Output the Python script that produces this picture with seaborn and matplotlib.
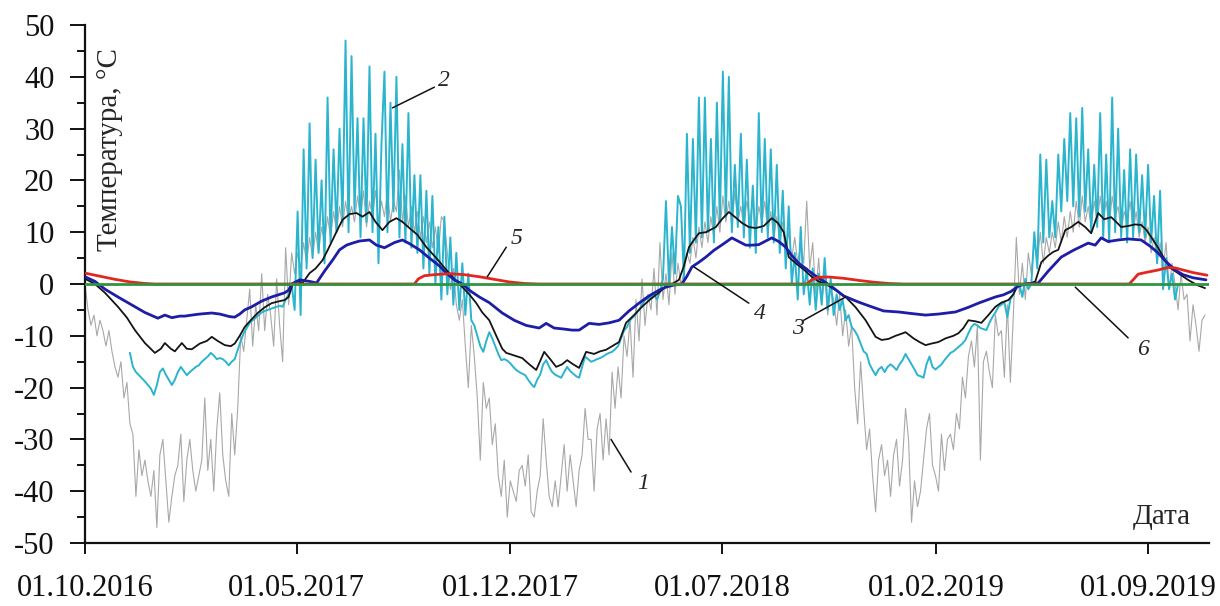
import numpy as np
import pandas as pd
import matplotlib
matplotlib.use("Agg")
import matplotlib.pyplot as plt
from matplotlib.ticker import MultipleLocator, NullLocator
import seaborn as sns

# ---------------- data ----------------
START = "2016-10-01"
END = "2019-11-01"
STEP = 3  # days between samples of curves 1 and 2

tick_dates = ["2016-10-01", "2017-05-01", "2017-12-01", "2018-07-01", "2019-02-01", "2019-09-01"]
tick_labels = ["01.10.2016", "01.05.2017", "01.12.2017", "01.07.2018", "01.02.2019", "01.09.2019"]
y_ticks = [-50, -40, -30, -20, -10, 0, 10, 20, 30, 40, 50]

# 1 - air temperature, every 3 days from 01.10.2016
air_temp = [
    0, -5, -8, -6, -10, -7, -9, -12, -9, -13,
    -16, -18, -15, -22, -19, -27, -29, -41, -32, -37,
    -34, -38, -41, -36, -47, -33, -30, -38, -46, -41,
    -37, -35, -29, -42, -34, -30, -36, -40, -37, -34,
    -22, -36, -30, -40, -28, -21, -33, -38, -41, -25,
    -33, -24, -10, -13, -7, -1, -12, -4, -9, 2,
    -9, -2, -6, -12, 1, -8, -15, 7, -4, 6,
    2, 6, 3, 8, 4, 9, 5, 10, 6, 11,
    8, 13, 9, 14, 10, 15, 11, 16, 12, 15,
    12, 17, 13, 18, 11, 16, 13, 18, 12, 16,
    13, 18, 12, 16, 14, 22, 12, 17, 11, 15,
    10, 14, 9, 13, 8, 12, 7, 11, 6, 13,
    12, 6, -1, 3, -4, -7, -3, -12, -20, -8,
    -14, -22, -34, -19, -24, -22, -31, -27, -37, -41,
    -34, -45, -38, -40, -42, -36, -35, -39, -33, -44,
    -45, -40, -37, -26, -34, -41, -43, -38, -43, -37,
    -31, -40, -33, -38, -43, -36, -33, -24, -30, -30,
    -40, -28, -25, -34, -26, -33, -17, -24, -16, -22,
    -10, -14, -7, -18, -3, -11, 1, -8, -2, -5,
    3, -6, 8, -3, 2, -4, 6, -2, 4, 0,
    2, 6, 4, 9, 5, 11, 7, 12, 8, 13,
    9, 15, 10, 17, 12, 16, 11, 18, 12, 15,
    11, 16, 12, 17, 10, 15, 12, 16, 10, 14,
    9, 13, 8, 12, 6, 10, 5, 9, 4, 8,
    4, 16, 3, 8, -2, 5, -4, 2, -6, -1,
    -3, -8, -2, -10, -5, -12, -8, -20, -27, -15,
    -24, -32, -28, -37, -44, -34, -31, -37, -34, -41,
    -33, -30, -39, -34, -24, -30, -46, -38, -43, -40,
    -34, -28, -25, -35, -37, -40, -29, -36, -30, -29,
    -32, -25, -28, -18, -22, -14, -11, -16, -8, -34,
    -15, -13, -17, -20, -6, -10, -9, -18, -4, -19,
    -6, 9, -2, 4, -3, 6, 2, 8, 4, 10,
    4, 9, 6, 10, 7, 12, 8, 13, 9, 14,
    10, 16, 11, 17, 12, 15, 11, 16, 12, 17,
    12, 16, 11, 17, 13, 15, 10, 14, 12, 16,
    10, 14, 9, 12, 8, 11, 6, 9, 4, 8,
    3, 8, -1, 4, 0, -5, 2, -3, -2, -11,
    -4, -8, -13, -7, -6,
]

# 2 - ground surface temperature, every 3 days; (first day offset, values)
surf_winter1 = (45, [
    -13.3, -16, -17, -17.6, -18.2, -18.8, -19.5, -20.2, -21.4, -19.5,
    -17, -16.3, -17.5, -18.5, -19.5, -18.5, -17, -16, -16.8, -17.6,
    -17, -16.5, -16, -15.7, -15, -14.5, -14, -13.3, -13.8, -14.5,
    -14.3, -14.5, -15, -15.7, -15, -14.5, -12.7, -11, -9.5, -8.5,
    -7.5, -7, -6.5, -6, -5.5, -5.2, -5, -4.8, -4.6, -4.4,
    -4.2, -4.4, -3, -2])
surf_summer1 = (207, [
    0, -5, 14, -6, 26, 3, 31, 5, 24, 6,
    20, 4, 36, 8, 26, 10, 30, 12, 47, 10,
    44, 14, 32, 9, 32, 12, 42, 10, 29, 4,
    27, 41, 10, 35, 14, 40, 9, 27, 8, 33,
    7, 21, 6, 21, 3, 18, 2, 17, 0, 11,
    -3, 13, -2, 9, -4, 6, -5, 4, -6, 2,
    -7])
surf_winter2 = (390, [
    -8, -10, -12, -13.1, -11, -9.3, -10.5, -12, -13.5, -14.7,
    -14.5, -14.8, -15.3, -16, -16.6, -17, -17.3, -17.6, -18.5, -19.3,
    -19.9, -18.5, -17.5, -15.5, -14.7, -16, -17, -17.5, -17.8, -18.1,
    -17, -16, -16.8, -17.3, -17.8, -18.1, -16, -14, -14.5, -15,
    -14.8, -14.5, -14.3, -14, -13.6, -13.3, -13.1, -12.6, -12, -10.5,
    -9, -8.3, -7, -6.4, -5.8, -5, -4, -3.1, -2.8, -2.5,
    -2, -3, -1.5, 1, 16, 0, 11, 2, 17])
surf_summer2 = (597, [
    15, 1, 29, 6, 28, 8, 36, 9, 36, 10,
    28, 8, 35, 12, 41, 13, 40, 10, 23, 11,
    29, 9, 24, 7, 19, 6, 33, 10, 28, 9,
    26, 8, 23, 6, 18, 3, 15, 0, 6, -3,
    11, -2, 3, -4, 3, -5])
surf_winter3 = (735, [
    2, -4, 5, -5, 1, -6, -2, -5, -3, -7,
    -6, -8.3, -9, -10, -11.5, -13, -13.5, -15.5, -16.6, -17.6,
    -16.5, -16, -17, -16, -15.5, -16, -16.6, -15.5, -14.7, -13.5,
    -14.5, -15.5, -16.5, -17.6, -17.8, -18.1, -15.5, -14, -16, -16.5,
    -16, -15.5, -14.7, -14, -13.3, -13, -12.5, -12, -11.5, -10.8,
    -9.5, -8.3, -7.7, -8, -8.5, -8.7, -8.9, -7.5, -6.4, -5.5,
    -4.4, -4, -3.5, -6.4, -3, -2, -0.5])
surf_summer3 = (936, [
    0, -2.5, 1, -1, 0, 10, 3, 25, 8, 24,
    9, 16, 9, 25, 14, 28, 16, 33, 15, 32,
    13, 34, 14, 26, 10, 23, 11, 33, 9, 25,
    8, 36, 10, 30, 9, 22, 8, 26, 9, 25,
    10, 21, 9, 23, 8, 17, 4, 18, -1, 5,
    -1, 2, -3, 0])

# 3 - mean of surface temperature (day offset, value)
smooth_surf = [
    (0, 1), (10, 0), (20, -1.7), (33, -4.4), (42, -6.5), (50, -8.9), (60, -11.4), (70, -13.3),
    (76, -12.5), (80, -11.4), (86, -12.5), (90, -13), (97, -11.4), (102, -12.5), (107, -12.6),
    (115, -11.5), (122, -11), (127, -10.2), (133, -11), (140, -11.8), (146, -12), (150, -11.5),
    (155, -10), (160, -8.3), (166, -7), (173, -5.6), (180, -4.5), (187, -3.7), (193, -3.4),
    (200, -3.1), (204, -2.5), (208, 0), (213, 0.5), (218, 0.2), (225, 2.1), (231, 3), (238, 4.6),
    (243, 6.5), (248, 8.5), (253, 10.5), (258, 12.4), (265, 13.5), (272, 13.7), (278, 13),
    (285, 13.9), (291, 12), (298, 10.4), (305, 12), (312, 12.7), (318, 12), (325, 10.8),
    (333, 9.5), (342, 7.1), (352, 5), (362, 2.7), (370, 1), (378, -0.6), (385, -2), (392, -3.7),
    (398, -5.5), (405, -7), (412, -10), (418, -12.5), (422, -13.3), (430, -13.8), (438, -14.3),
    (445, -15.5), (452, -16.6), (460, -13.1), (466, -14.5), (472, -16), (478, -15.5),
    (483, -14.7), (489, -15.5), (495, -16.2), (502, -13.1), (510, -13.5), (516, -13),
    (522, -12.7), (528, -12), (535, -11.2), (542, -7.5), (550, -6), (558, -4.4), (566, -3),
    (574, -1.8), (582, -0.5), (588, 0), (595, 0.8), (600, 3.5), (605, 7.1), (610, 8.5),
    (615, 9.8), (622, 10), (632, 11), (638, 12.5), (645, 13.9), (652, 12.8), (658, 11.8),
    (665, 11), (672, 10.8), (680, 11.2), (688, 12.7), (694, 11.8), (700, 10), (705, 5.2),
    (712, 4), (720, 2.8), (728, 1.4), (735, 0.5), (742, 0), (752, -1.2), (762, -2.5),
    (772, -4.5), (782, -7), (792, -10.2), (798, -10.8), (805, -10.6), (812, -10), (818, -9.6),
    (822, -9.3), (830, -10.5), (836, -11.2), (842, -11.8), (848, -11.5), (855, -11.2),
    (862, -10.5), (870, -10), (875, -9.5), (880, -8.5), (885, -7), (892, -7.2), (898, -7.5),
    (905, -6), (912, -4.4), (918, -3.6), (925, -3.1), (930, -2), (935, 0), (942, 0), (948, 0.2),
    (952, 0.5), (958, 4.2), (965, 5.5), (970, 6.2), (975, 6.6), (982, 10.4), (988, 11),
    (995, 12), (1002, 11), (1008, 9.8), (1015, 13.7), (1021, 12.5), (1028, 12.9), (1033, 12),
    (1038, 11), (1045, 11.2), (1052, 11.5), (1058, 11.4), (1063, 10.5), (1068, 9.1), (1075, 7),
    (1082, 4.6), (1088, 3), (1095, 2.1), (1105, 0.8), (1114, -0.2), (1122, -0.8),
]

# 4 - temperature at depth (day offset, value)
depth_temp = [
    (0, 1.4), (10, 0.5), (20, -1), (33, -2.5), (42, -3.5), (50, -4.4), (60, -5.5), (73, -6.6),
    (80, -6), (87, -6.5), (95, -6.2), (100, -6.2), (107, -6), (115, -5.8), (127, -5.6),
    (135, -5.8), (145, -6.3), (150, -6.4), (155, -5.8), (160, -5), (167, -4.4), (177, -3.3),
    (187, -2.5), (195, -2), (200, -1.7), (204, -1.2), (207, 0), (215, 0.8), (225, 0.5),
    (232, 0.2), (240, 2.5), (248, 4.6), (255, 6.6), (262, 7.5), (268, 7.9), (275, 8.3),
    (285, 8.5), (292, 7.5), (300, 7), (310, 8), (318, 8.5), (325, 7.8), (335, 6.6), (345, 5),
    (355, 3.5), (362, 2.1), (370, 0.8), (378, 0), (385, -1.2), (395, -2.5), (405, -3.6),
    (418, -5.6), (430, -7), (442, -8), (455, -8.5), (462, -7.6), (470, -8.5), (480, -8.7),
    (488, -8.9), (495, -8.9), (505, -7.6), (515, -7.8), (525, -7.5), (535, -7), (545, -5.2),
    (555, -3.7), (565, -2.3), (575, -1.2), (582, -0.6), (590, -0.2), (598, 0), (603, 1.5),
    (608, 3.3), (615, 4.2), (622, 5.2), (630, 6.5), (640, 7.8), (648, 8.9), (655, 8.2),
    (662, 7.5), (668, 7.5), (675, 7.6), (682, 8.3), (688, 8.9), (695, 8.2), (702, 7.1),
    (708, 5.5), (715, 4), (722, 3), (730, 1.8), (738, 0.8), (748, -0.5), (760, -2.3),
    (775, -3.5), (788, -4.4), (800, -5.2), (815, -5.4), (828, -5.7), (842, -6), (855, -5.8),
    (872, -5.4), (885, -4.5), (895, -3.7), (905, -3), (912, -2.5), (920, -2.1), (928, -1.4),
    (935, -0.4), (942, 0), (950, 0.1), (955, 0.2), (965, 2.5), (978, 5.2), (990, 6.5),
    (1005, 7.9), (1012, 7.5), (1018, 8.9), (1025, 8.2), (1035, 8.5), (1045, 8.7), (1058, 8.5),
    (1067, 7.3), (1075, 6), (1082, 4.5), (1092, 2.7), (1100, 1.8), (1110, 1.2), (1123, 0.8),
]

# 5 - temperature of the deeper layer (day offset, value)
deep_temp = [
    (0, 2.1), (15, 1.5), (30, 0.9), (45, 0.4), (60, 0.1), (70, 0),
    (330, 0), (334, 1.0), (340, 1.6), (350, 1.8), (365, 2.0), (380, 1.8), (395, 1.4),
    (410, 0.9), (425, 0.4), (440, 0.1), (455, 0),
    (723, 0), (728, 0.8), (735, 1.3), (745, 1.35), (760, 1.1), (775, 0.7), (790, 0.35),
    (805, 0.1), (820, 0),
    (1046, 0), (1050, 0.8), (1055, 1.9), (1062, 2.2), (1075, 2.7), (1085, 3.2), (1092, 3.1),
    (1100, 2.7), (1110, 2.2), (1124, 1.7),
]

# 6 - zero line
zero_line = [(0, 0), (1126, 0)]

# curve numbers: (label, line start (day, value), line end (day, value), text (day, value))
callouts = [
    ("1", (527, -30), (547, -36.3), (553, -38.6)),
    ("2", (308, 34), (350, 38), (354, 39.2)),
    ("3", (762, -2.5), (720, -7), (708, -8.6)),
    ("4", (610, 3.3), (665, -3.7), (670, -5.6)),
    ("5", (403, 1.4), (422, 7.1), (426, 8.8)),
    ("6", (992, -0.6), (1045, -10.4), (1054, -12.6)),
]

# ---------------- helpers ----------------
t0 = pd.Timestamp(START)


def regular_frame(offset, values):
    days = offset + STEP * np.arange(len(values))
    return pd.DataFrame({"date": t0 + pd.to_timedelta(days, unit="D"), "temp": values})


def pair_frame(pairs):
    days = [p[0] for p in pairs]
    vals = [p[1] for p in pairs]
    return pd.DataFrame({"date": t0 + pd.to_timedelta(days, unit="D"), "temp": vals})


df_air = regular_frame(0, air_temp)
df_surf = pd.concat([regular_frame(o, v) for o, v in
                     (surf_winter1, surf_summer1, surf_winter2, surf_summer2, surf_winter3, surf_summer3)],
                    ignore_index=True)
df_smooth = pair_frame(smooth_surf)
df_depth = pair_frame(depth_temp)
df_deep = pair_frame(deep_temp)
df_zero = pair_frame(zero_line)

# ---------------- plot ----------------
sns.set_style("ticks")
plt.rcParams["font.family"] = ["Liberation Serif", "DejaVu Serif"]
plt.rcParams["axes.unicode_minus"] = False

fig = plt.figure(figsize=(12.2, 6.06), dpi=100)
ax = fig.add_axes([85 / 1220, 63 / 606, 1124 / 1220, 518 / 606])

common = dict(x="date", y="temp", ax=ax, estimator=None, sort=False, legend=False)
sns.lineplot(data=df_air, color="#a8a8a8", linewidth=0.8, zorder=1, **common)
sns.lineplot(data=df_surf, color="#2ab4ce", linewidth=1.4, zorder=2, **common)
sns.lineplot(data=df_smooth, color="#141414", linewidth=1.3, zorder=3, **common)
sns.lineplot(data=df_depth, color="#1d1da6", linewidth=2.0, zorder=4, **common)
sns.lineplot(data=df_deep, color="#e1271f", linewidth=2.0, zorder=5, **common)
sns.lineplot(data=df_zero, color="#2f9440", linewidth=2.0, zorder=6, **common)

for label, p0, p1, pt in callouts:
    d0 = t0 + pd.Timedelta(days=p0[0])
    d1 = t0 + pd.Timedelta(days=p1[0])
    ax.plot([d0, d1], [p0[1], p1[1]], color="#111111", linewidth=1.1, zorder=7)
    ax.text(t0 + pd.Timedelta(days=pt[0]), pt[1], label, fontsize=17, style="italic",
            ha="left", va="center", zorder=8)

ax.set_xlim(t0, pd.Timestamp(END))
ax.set_ylim(-50, 50)
ax.set_xticks(pd.to_datetime(tick_dates))
ax.set_xticklabels(tick_labels)
ax.xaxis.set_minor_locator(NullLocator())
ax.set_yticks(y_ticks)
ax.set_yticklabels([str(v) for v in y_ticks])
ax.yaxis.set_minor_locator(MultipleLocator(5))

ax.tick_params(axis="y", which="major", length=11, width=1.4, pad=11, labelsize=22,
               direction="out", colors="#111111")
ax.tick_params(axis="y", which="minor", length=6, width=1.4, direction="out", colors="#111111")
ax.tick_params(axis="x", which="major", length=8, width=1.4, pad=14, labelsize=22,
               direction="out", colors="#111111")

for side in ("top", "right"):
    ax.spines[side].set_visible(False)
for side in ("left", "bottom"):
    ax.spines[side].set_linewidth(1.6)
    ax.spines[side].set_color("#111111")

ax.set_xlabel("")
ax.set_ylabel("")
ax.text(0.022, 0.76, "Температура, °С", transform=ax.transAxes, rotation=90,
        ha="center", va="center", fontsize=21)
ax.text(0.958, 0.05, "Дата", transform=ax.transAxes, ha="center", va="center", fontsize=21)

fig.savefig("out.png", dpi=100)
